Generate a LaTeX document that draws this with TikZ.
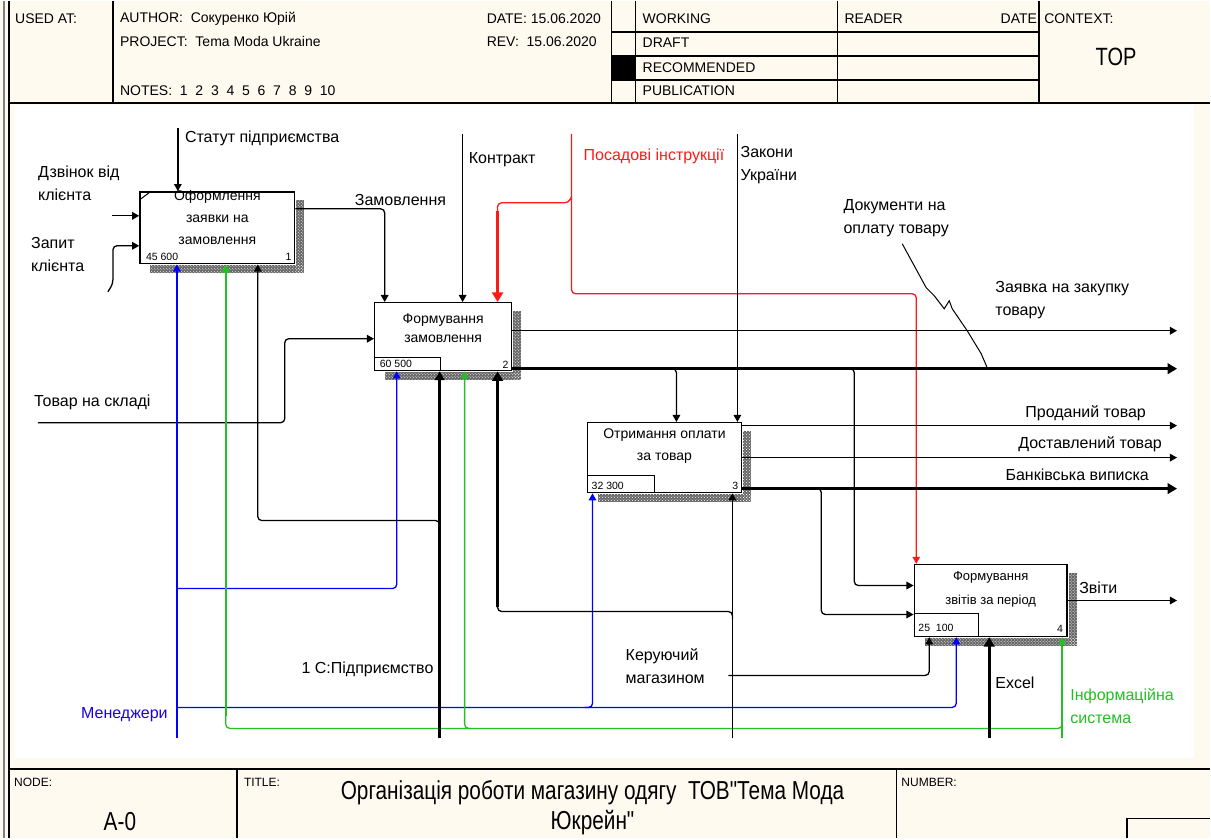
\documentclass[tikz,border=0pt]{standalone}
\usepackage{fontspec}
\setmainfont{Liberation Sans}
\newfontfamily\narrowfont[FakeStretch=0.8]{Liberation Sans}
\usetikzlibrary{arrows.meta,patterns}
\definecolor{paper}{HTML}{FFFAF0}
\definecolor{isgreen}{HTML}{22C022}
\definecolor{mgrblue}{HTML}{0000FF}
\definecolor{instrred}{HTML}{FF1A1A}

\begin{document}
\begin{tikzpicture}[x=1pt, y=-1pt,
  >={Triangle[length=5pt 1.6, width=5pt 2]},
  every node/.style={inner sep=0pt},
  func/.style={draw, line width=1.4pt, fill=white},
  fname/.style={font=\fontsize{14}{22}\selectfont, align=center, anchor=north},
  fid/.style={font=\fontsize{10.5}{12}\selectfont},
  lbl/.style={font=\fontsize{16}{23}\selectfont, align=left},
  hdr/.style={font=\fontsize{14}{16}\selectfont, anchor=west},
  small/.style={font=\fontsize{12}{14}\selectfont, anchor=west},
  link/.style={line width=1.3pt, rounded corners=4pt},
  heavy/.style={line width=2.8pt, rounded corners=4pt},
  shade/.style={pattern=crosshatch dots, pattern color=white},
]
  % Sheet and frame
  \fill[paper] (0,0) rectangle (1211,838);
  \fill[white] (15,104) rectangle (1195,758);
  \draw[gray, line width=1.5pt] (4,0) -- (4,838);
  \draw[line width=2pt] (9,0) -- (9,838);
  \draw[line width=2pt] (9,102) -- (1211,102);
  \foreach \x in {113,612,636,838,1040}
    \draw[line width=1.5pt] (\x,0) -- (\x,102);
  \foreach \y in {31,55,79}
    \draw[line width=1.5pt] (612,\y) -- (1040,\y);
  \fill (612,55) rectangle (636,79);
  \draw[line width=2pt] (9,769) -- (1211,769);
  \draw[line width=1.5pt] (237,769) -- (237,838);
  \draw[line width=1.5pt] (897,769) -- (897,838);
  \draw[line width=1.5pt] (1128,838) |- (1211,818);

  % Header texts
  \node[hdr] (usedat) at (15,18) {USED AT:};
  \node[hdr] (author) at (120,18) {AUTHOR:\ \ Сокуренко Юрій};
  \node[hdr] (project) at (120,41) {PROJECT:\ \ Tema Moda Ukraine};
  \node[hdr] (notes) at (120,90) {NOTES:\ \ 1\ \ 2\ \ 3\ \ 4\ \ 5\ \ 6\ \ 7\ \ 8\ \ 9\ \ 10};
  \node[hdr] (date) at (487,18) {DATE: 15.06.2020};
  \node[hdr] (rev) at (487,41) {REV:\ \ 15.06.2020};
  \node[hdr] (working) at (643,18) {WORKING};
  \node[hdr] (draft) at (643,42) {DRAFT};
  \node[hdr] (recomm) at (643,67) {RECOMMENDED};
  \node[hdr] (public) at (643,90) {PUBLICATION};
  \node[hdr] (reader) at (845,18) {READER};
  \node[hdr, anchor=east] (rdate) at (1038,18) {DATE};
  \node[hdr] (context) at (1045,18) {CONTEXT:};
  \node[font=\narrowfont\fontsize{25}{28}\selectfont] (top) at (1117,56) {TOP};

  % Footer texts
  \node[small] (nodelbl) at (14,782) {NODE:};
  \node[small] (titlelbl) at (244,782) {TITLE:};
  \node[small] (numlbl) at (902,782) {NUMBER:};
  \node[font=\narrowfont\fontsize{26}{28}\selectfont] (nodeno) at (120,821) {A-0};
  \node[font=\narrowfont\fontsize{26}{30}\selectfont, align=center] (title) at (593,807)
    {Організація роботи магазину одягу\ \ ТОВ"Тема Мода\\Юкрейн"};

  % Activity boxes
  \node[func, minimum width=155pt, minimum height=72pt] (req) at (217.5,227) {};
  \node[func, minimum width=137pt, minimum height=68pt] (ord) at (443.5,336) {};
  \node[func, minimum width=154pt, minimum height=70pt] (pay) at (665,457) {};
  \node[func, minimum width=153pt, minimum height=72pt] (rep) at (991.5,600) {};

  \foreach \b in {req,ord,pay,rep}{
    \fill[black!60] ([xshift=1pt,yshift=-9pt]\b.north east)
      rectangle ([xshift=9pt,yshift=-9pt]\b.south east);
    \fill[black!60] ([xshift=11pt,yshift=-1pt]\b.south west)
      rectangle ([xshift=9pt,yshift=-9pt]\b.south east);
    \fill[shade] ([xshift=1pt,yshift=-9pt]\b.north east)
      rectangle ([xshift=9pt,yshift=-9pt]\b.south east);
    \fill[shade] ([xshift=11pt,yshift=-1pt]\b.south west)
      rectangle ([xshift=9pt,yshift=-9pt]\b.south east);
  }

  \draw[line width=1pt] ([yshift=-9pt]req.north west) -- ([xshift=12pt]req.north west);
  \draw[line width=1pt] ([yshift=14pt]ord.south west) -| ([xshift=67pt]ord.south west);
  \draw[line width=1pt] ([yshift=18pt]pay.south west) -| ([xshift=68pt]pay.south west);
  \draw[line width=1pt] ([yshift=24pt]rep.south west) -| ([xshift=65pt]rep.south west);

  \node[fname] (reqtxt) at (217.5,189) {Оформлення\\заявки на\\замовлення};
  \node[fname, font=\fontsize{14}{19}\selectfont] (ordtxt) at (443.5,313) {Формування\\замовлення};
  \node[fname] (paytxt) at (665,428) {Отримання оплати\\за товар};
  \node[fname, font=\fontsize{13}{24}\selectfont] (reptxt) at (991.5,571) {Формування\\звітів за період};

  \node[fid, anchor=west] (reqid) at (146,256) {45 600};
  \node[fid, anchor=west] (ordid) at (380,363) {60 500};
  \node[fid, anchor=west] (payid) at (592,485) {32 300};
  \node[fid, anchor=west] (repid) at (919,627) {25\ \ 100};
  \node[fid, anchor=east] (reqno) at (292,256) {1};
  \node[fid, anchor=east] (ordno) at (509,364) {2};
  \node[fid, anchor=east] (payno) at (739,485) {3};
  \node[fid, anchor=east] (repno) at (1064,628) {4};

  % Free ends of the arrows
  \coordinate (callIn) at (112,215);
  \coordinate (askIn) at (108,291);
  \coordinate (statIn) at (178,127);
  \coordinate (contrIn) at (463,133);
  \coordinate (instrIn) at (572,133);
  \coordinate (lawIn) at (738,133);
  \coordinate (stockIn) at (38,422);
  \coordinate (buyOut) at (1178,330);
  \coordinate (docOut) at (1178,368);
  \coordinate (soldOut) at (1178,425);
  \coordinate (delivOut) at (1178,457);
  \coordinate (bankOut) at (1178,488);
  \coordinate (repOut) at (1178,600);
  \coordinate (mgrIn) at (177,738);
  \coordinate (oneCIn) at (440,738);
  \coordinate (headIn) at (733,738);
  \coordinate (xlsIn) at (990,738);
  \coordinate (isIn) at (1063,738);

  % Inputs and controls
  \draw[link,->] (callIn) -- (req.west |- callIn);
  \draw[link,->] (askIn) -- (113,283) -- (113,245) -- (req.west |- 0,245);
  \draw[link,->] (statIn) -- (req.north -| statIn);
  \draw[link,->] (req.east |- 0,208) -| (ord.north -| 385,0);
  \draw[link,->] (contrIn) -- (ord.north -| contrIn);
  \draw[link,instrred,->] (instrIn) |- (917,293) -- (rep.north -| 917,0);
  \draw[link,instrred] (572,196) -- (569,202) -- (498,202) -- (498,215);
  \draw[instrred,line width=3pt,->] (498,210) -- (ord.north -| 498,0);
  \draw[link,->] (lawIn) -- (pay.north -| lawIn);
  \draw[link,->] (stockIn) -| (285,338) -- (ord.west |- 0,338);

  % Outputs
  \draw[link,->] (ord.east |- buyOut) -- (buyOut);
  \draw[heavy,->] (ord.east |- docOut) -- (docOut);
  \draw[link,->] (671,368) -| (pay.north -| 677,0);
  \draw[link,->] (849,368) -| (855,585) -- (rep.west |- 0,585);
  \draw[line width=1pt] (903,243) -- (927,287) -- (935,295) -- (945,308) -- (950,300)
    -- (953,308) -- (968,330) -- (982,353) -- (988,367);
  \draw[link,->] (pay.east |- soldOut) -- (soldOut);
  \draw[link,->] (pay.east |- delivOut) -- (delivOut);
  \draw[heavy,->] (pay.east |- bankOut) -- (bankOut);
  \draw[link,->] (816,488) -| (822,614) -- (rep.west |- 0,614);
  \draw[link,->] (rep.east |- repOut) -- (repOut);

  % Mechanisms
  \draw[link,mgrblue,->] (mgrIn) -- (req.south -| mgrIn);
  \draw[link,mgrblue,->] (177,588) -| (ord.south -| 397,0);
  \draw[link,mgrblue,->] (177,707) -| (rep.south -| 957,0);
  \draw[link,mgrblue,->] (585,707) -| (pay.south -| 593,0);
  \draw[link,isgreen,->] (isIn) -- (rep.south -| isIn);
  \draw[link,isgreen] (1063,720) |- (226,728) -- (226,712);
  \draw[isgreen,line width=2pt,->] (226,716) -- (req.south -| 226,0);
  \draw[link,isgreen,->] (471,728) -| (ord.south -| 465,0);
  \draw[line width=2.4pt,->] (oneCIn) -- (ord.south -| oneCIn);
  \draw[link,->] (440,528) |- (258,520) -- (req.south -| 258,0);
  \draw[link,->] (headIn) -- (pay.south -| headIn);
  \draw[link] (733,619) |- (498,611) -- (498,600);
  \draw[heavy,->] (498,606) -- (ord.south -| 498,0);
  \draw[link,->] (729,675) -| (rep.south -| 930,0);
  \draw[heavy,->] (xlsIn) -- (rep.south -| xlsIn);

  % Arrow labels
  \node[lbl, anchor=west] (statLbl) at (185,137) {Статут підприємства};
  \node[lbl, anchor=north west] (callLbl) at (38,165) {Дзвінок від\\клієнта};
  \node[lbl, anchor=north west] (askLbl) at (31,236) {Запит\\клієнта};
  \node[lbl, anchor=west] (orderLbl) at (355,199) {Замовлення};
  \node[lbl, anchor=west] (contrLbl) at (469,159) {Контракт};
  \node[lbl, anchor=west, text=instrred] (instrLbl) at (584,155) {Посадові інструкції};
  \node[lbl, anchor=north west] (lawLbl) at (741,145) {Закони\\України};
  \node[lbl, anchor=north west] (docLbl) at (844,198) {Документи на\\оплату товару};
  \node[lbl, anchor=north west] (buyLbl) at (996,280) {Заявка на закупку\\товару};
  \node[lbl, anchor=west] (stockLbl) at (34,402) {Товар на складі};
  \node[lbl, anchor=east] (soldLbl) at (1147,413) {Проданий товар};
  \node[lbl, anchor=east] (delivLbl) at (1163,444) {Доставлений товар};
  \node[lbl, anchor=east] (bankLbl) at (1150,474) {Банківська виписка};
  \node[lbl, anchor=west] (repLbl) at (1080,587) {Звіти};
  \node[lbl, anchor=east] (oneCLbl) at (434,669) {1 С:Підприємство};
  \node[lbl, anchor=north west] (headLbl) at (626,648) {Керуючий\\магазином};
  \node[lbl, anchor=east, text=mgrblue!80!violet] (mgrLbl) at (168,714) {Менеджери};
  \node[lbl, anchor=west] (xlsLbl) at (996,682) {Excel};
  \node[lbl, anchor=north west, text=isgreen] (isLbl) at (1071,688) {Інформаційна\\система};
\end{tikzpicture}
\end{document}
